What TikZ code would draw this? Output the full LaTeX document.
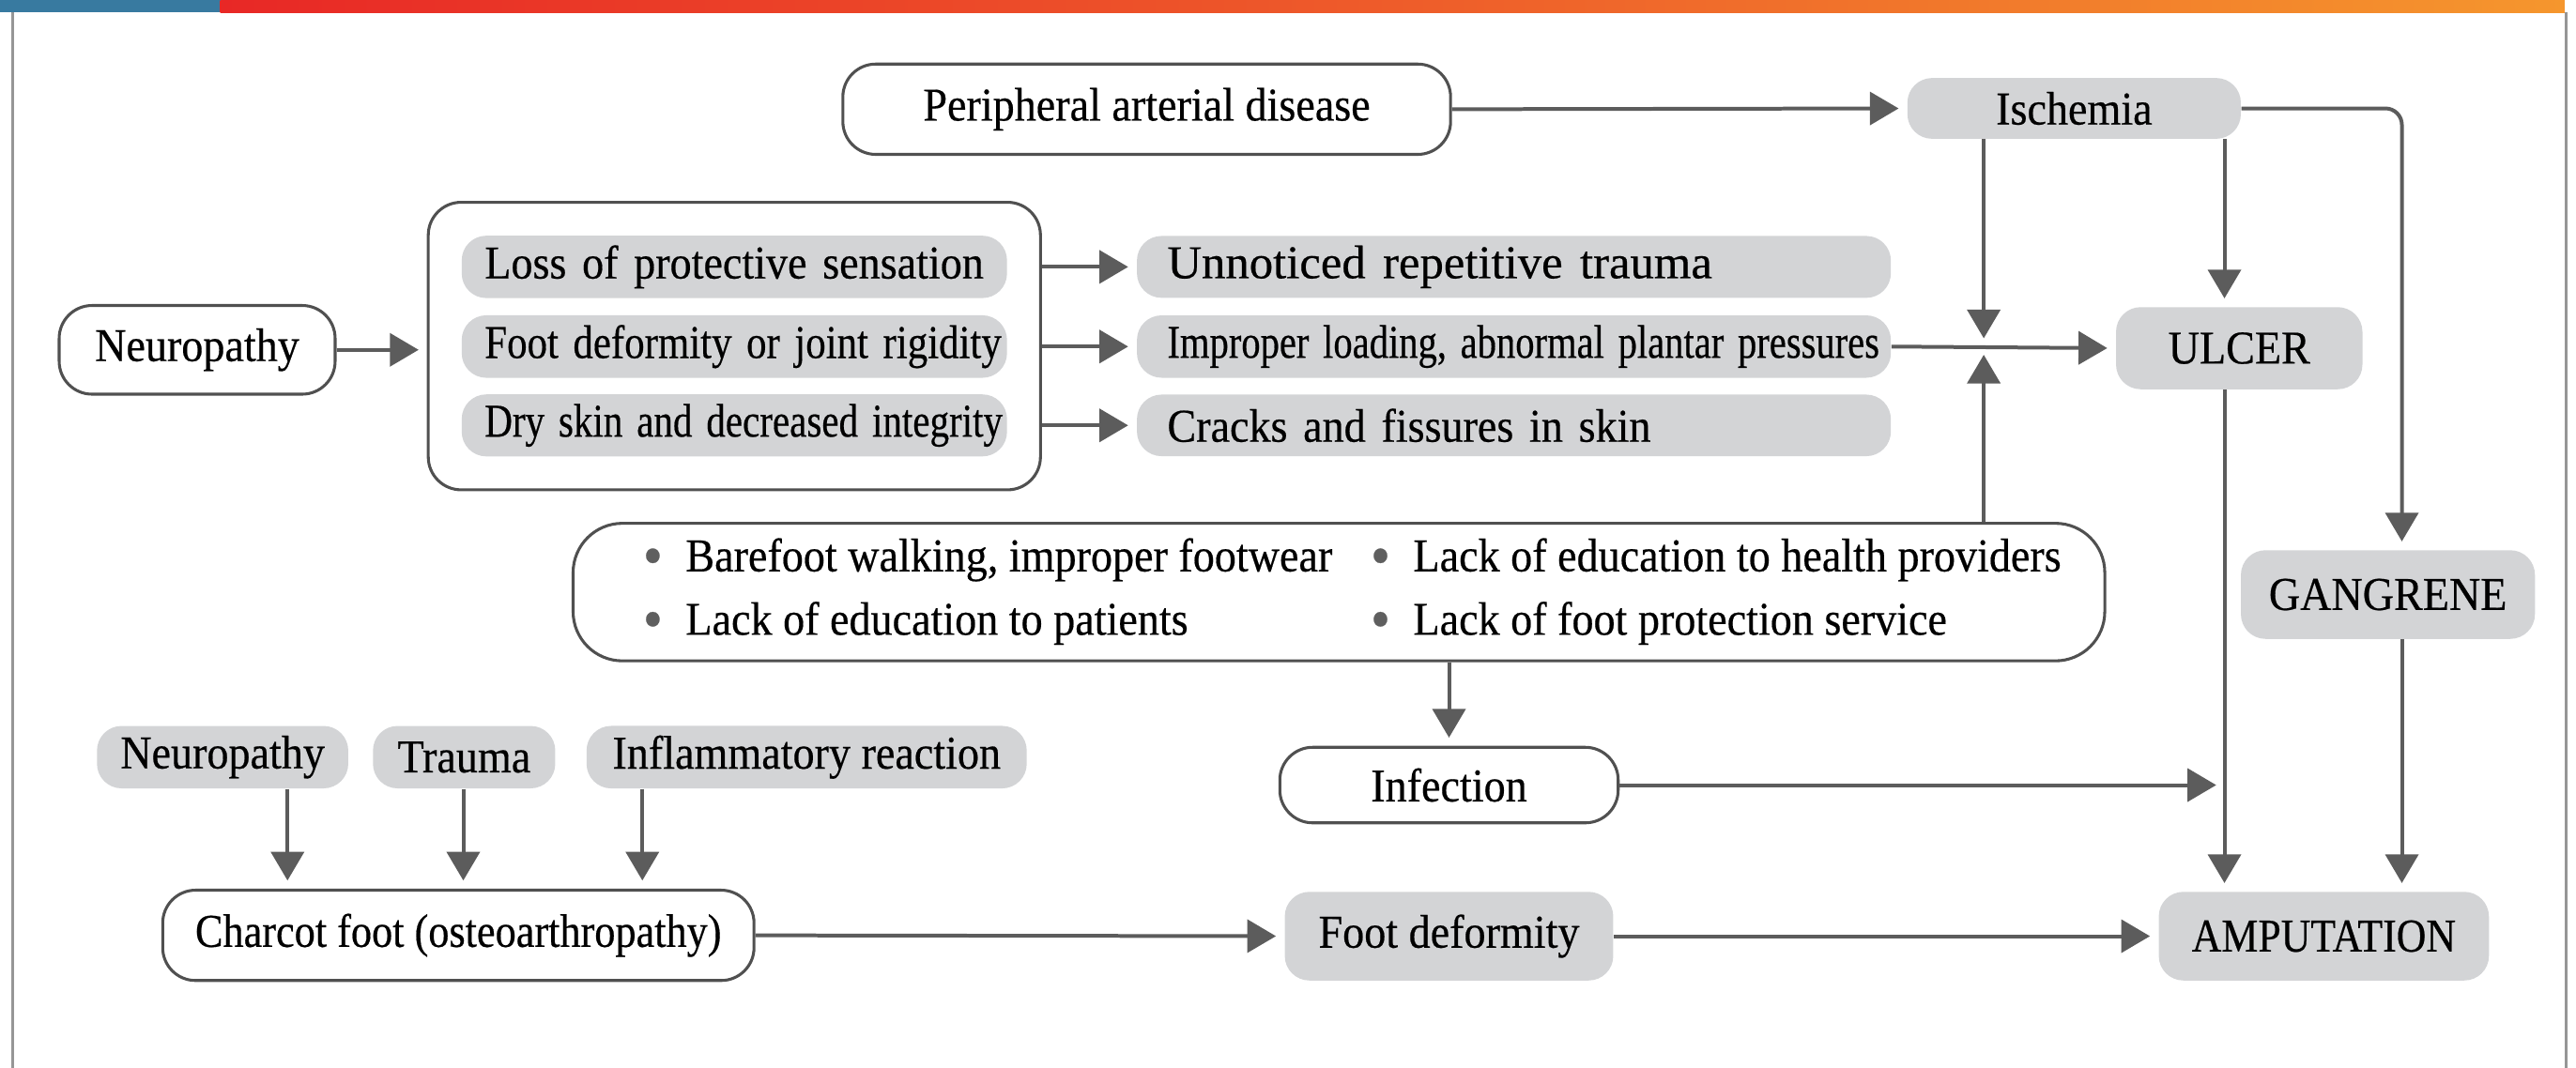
\documentclass[tikz,border=0pt]{standalone}
\usepackage{fontspec}
\setmainfont{Liberation Serif}[FakeStretch=0.92,FakeBold=0.4]
\usepackage{graphicx}
\usetikzlibrary{calc,arrows.meta,fit}

\definecolor{boxgray}{RGB}{211,212,214}
\definecolor{linegray}{RGB}{80,80,80}
\definecolor{arrowgray}{RGB}{92,92,92}
\definecolor{dotgray}{RGB}{95,95,95}
\definecolor{bordergray}{RGB}{150,150,150}
\definecolor{barblue}{RGB}{56,122,160}
\definecolor{barred}{RGB}{232,40,38}
\definecolor{barmid}{RGB}{238,92,42}
\definecolor{barorange}{RGB}{245,150,45}

\newcommand{\dfont}{\fontsize{16.3}{19}\selectfont}
\newcommand{\sqz}[2]{\scalebox{#1}[1]{#2}}
\newcommand{\itm}{{\color{dotgray}\raisebox{-0.1em}{\scalebox{1.3}{\textbullet}}}\hspace{0.28cm}}

\begin{document}
\begin{tikzpicture}[x=0.02cm,y=0.02cm,every node/.style={font=\dfont,text=black}]

\tikzstyle{whitebox}=[draw=linegray,line width=1pt,fill=white,rounded corners=0.4cm,minimum height=1.1cm]
\tikzstyle{graybox}=[fill=boxgray,rounded corners=0.3cm,minimum height=0.74cm]
\tikzstyle{leftcol}=[graybox,minimum width=6.64cm,text width=6.08cm,inner xsep=0.28cm,align=left]
\tikzstyle{rightcol}=[graybox,minimum width=9.18cm,text width=8.44cm,inner xsep=0.37cm,align=left]
\tikzstyle{arr}=[draw=arrowgray,line width=1.3pt,-{Triangle[length=0.35cm,width=0.4cm]},shorten >=0.1cm]

\useasboundingbox (0,0) rectangle (1568,-650);

% frame and title bar
\fill[barblue] (0,0) rectangle (134,-7.6);
\shade[left color=barred,right color=barorange,middle color=barmid] (134,0) rectangle (1561,-7.6);
\draw[bordergray,line width=1pt] (7.7,-7.6) -- (7.7,-650);
\draw[bordergray,line width=1pt] (1562,-7.6) -- (1562,-650);

\node (pad) [whitebox,minimum width=7.4cm] at (698,-66.5) {Peripheral arterial disease};
\node (isch) [graybox,minimum width=4.06cm] at (1262.5,-66) {Ischemia};

\node (neuro) [whitebox,minimum width=3.36cm,minimum height=1.08cm] at (120,-213) {Neuropathy};
\node (loss) [leftcol] at (447,-162.5) {Loss of protective sensation};
\node (joint) [leftcol,minimum height=0.76cm] at (447,-211) {\sqz{0.93}{Foot deformity or joint rigidity}};
\node (dry) [leftcol,minimum height=0.75cm] at (447,-259) {\sqz{0.89}{Dry skin and decreased integrity}};
\node (sympt) [whitebox,fill=none,fit=(loss)(dry),inner sep=0.4cm] {};

\node (unnot) [rightcol] at (921.5,-162.5) {\sqz{1.1}{Unnoticed repetitive trauma}};
\node (improp) [rightcol,minimum height=0.76cm] at (921.5,-211) {\sqz{0.88}{Improper loading, abnormal plantar pressures}};
\node (cracks) [rightcol,minimum height=0.75cm] at (921.5,-259) {Cracks and fissures in skin};

\node (ulcer) [graybox,minimum width=3cm,minimum height=1cm] at (1363,-212) {ULCER};
\node (gang) [graybox,minimum width=3.58cm,minimum height=1.08cm] at (1453.5,-362) {GANGRENE};

\node (risk) [whitebox,minimum width=18.65cm,minimum height=1.6cm,rounded corners=0.6cm] at (815,-360.5) {%
  \begin{tabular}{@{\hspace{0.32cm}}l@{}l@{}}
  \makebox[8.86cm][l]{\itm Barefoot walking, improper footwear} & \itm Lack of education to health providers\\[3pt]
  \makebox[8.86cm][l]{\itm Lack of education to patients} & \itm Lack of foot protection service
  \end{tabular}};
\node (infect) [whitebox,minimum width=4.12cm,minimum height=0.92cm] at (882,-478) {Infection};

\node (neu2) [graybox,minimum width=3.06cm,minimum height=0.76cm] at (135.5,-461) {Neuropathy};
\node (trauma) [graybox,minimum width=2.22cm,minimum height=0.76cm] at (282.5,-461) {Trauma};
\node (infl) [graybox,minimum width=5.36cm,minimum height=0.76cm] at (491,-461) {Inflammatory reaction};
\node (charcot) [whitebox,minimum width=7.2cm] at (279,-569.5) {\sqz{0.96}{Charcot foot (osteoarthropathy)}};
\node (footdef) [graybox,minimum width=4cm,minimum height=1.08cm] at (882,-570) {Foot deformity};
\node (amput) [graybox,minimum width=4.02cm,minimum height=1.08cm] at (1414.5,-570) {\sqz{0.95}{AMPUTATION}};

% line positions
\coordinate (jn) at (1207.5,-211);
\coordinate (colU) at (1354,0);
\coordinate (colG) at (1462,0);
\coordinate (k1) at (175,0);
\coordinate (k2) at (282,0);
\coordinate (k3) at (391,0);

% arrows
\draw[arr] (pad.east) -- (isch.west);
\draw[arr,rounded corners=0.2cm] (isch.east) -| (gang.north -| colG);
\draw[arr] (isch.south -| jn) -- (jn);
\draw[arr] (isch.south -| colU) -- (ulcer.north -| colU);
\draw[arr] (neuro.east) -- (neuro.east -| sympt.west);
\foreach \r in {unnot,improp,cracks} {
    \draw[arr] (\r.west -| sympt.east) -- (\r.west);
}
\draw[arr] (improp.east) -- (ulcer.west);
\draw[arr] (risk.north -| jn) -- (jn);
\draw[arr] (risk.south -| infect.north) -- (infect.north);
\draw[arr] (infect.east) -- (infect.east -| colU);
\draw[arr] (ulcer.south -| colU) -- (amput.north -| colU);
\draw[arr] (gang.south -| colG) -- (amput.north -| colG);
\foreach \n/\k in {neu2/k1,trauma/k2,infl/k3} {
    \draw[arr] (\n.south -| \k) -- (charcot.north -| \k);
}
\draw[arr] (charcot.east) -- (footdef.west);
\draw[arr] (footdef.east) -- (amput.west);
\end{tikzpicture}
\end{document}
